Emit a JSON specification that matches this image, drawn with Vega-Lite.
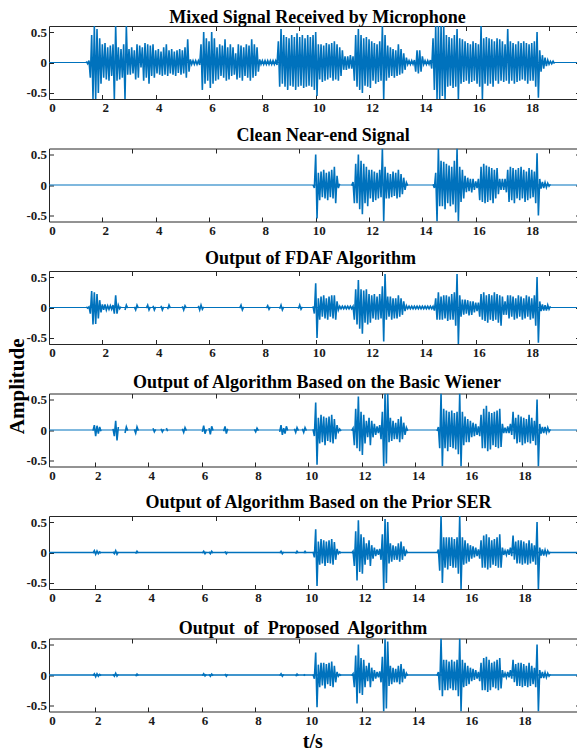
{
"$schema":"https://vega.github.io/schema/vega-lite/v6.json",
"background":"white",
"padding":{"left":5,"top":8,"right":0,"bottom":0},
"config":{
 "view":{"stroke":"#262626","strokeWidth":1},
 "axis":{"domain":false,"grid":false,"tickSize":-4.5,"tickColor":"#262626","tickWidth":1,"labelFont":"Liberation Serif","labelFontSize":13,"labelFontWeight":"bold","labelColor":"#1a1a1a","labelPadding":7,"labelFlush":false,"labelOverlap":false,"titleFont":"Liberation Serif","titleFontWeight":"bold","titleColor":"#000"},
 "axisX":{"labelOffset":3},
 "title":{"font":"Liberation Serif","fontSize":18,"fontWeight":"bold","color":"#000","anchor":"middle","frame":"group","baseline":"alphabetic"}
},
"datasets":{"w":[
{"t":1.4,"a":0.02,"c":0.01},
{"t":1.45,"a":-0.02,"c":-0.01},
{"t":1.5,"a":0.03,"c":0.01},
{"t":1.55,"a":-0.25,"c":-0.1},
{"t":1.6,"a":0.45,"c":0.27},
{"t":1.65,"a":-0.6,"c":-0.28,"d":-0.01,"e":-0.01,"f":-0.01},
{"t":1.7,"a":0.6,"c":0.25,"d":0.08,"e":0.03,"f":0.02},
{"t":1.75,"a":-0.6,"c":-0.27,"d":-0.1,"e":-0.03,"f":-0.03},
{"t":1.8,"a":0.55,"c":0.22,"d":0.07,"e":0.025,"f":0.02},
{"t":1.85,"a":-0.5,"c":-0.18,"d":-0.06,"e":-0.02,"f":-0.02},
{"t":1.9,"a":0.4,"c":0.12,"d":0.05,"e":0.01,"f":0.01},
{"t":1.95,"a":-0.35,"c":-0.08,"d":-0.02,"e":-0.01,"f":-0.01},
{"t":2,"a":0.3,"c":0.05},
{"t":2.05,"a":-0.25,"c":-0.04},
{"t":2.1,"a":0.32,"c":0.05},
{"t":2.15,"a":-0.28,"c":-0.04},
{"t":2.2,"a":0.25,"c":0.03},
{"t":2.25,"a":-0.3,"c":-0.03},
{"t":2.3,"a":0.28,"c":0.03},
{"t":2.35,"a":-0.22,"c":-0.03},
{"t":2.4,"a":0.3,"c":0.04,"d":0.02,"e":0.01,"f":0.01},
{"t":2.45,"a":-0.6,"c":-0.1,"d":-0.1,"e":-0.02,"f":-0.02},
{"t":2.5,"a":0.6,"c":0.2,"d":0.15,"e":0.03,"f":0.03},
{"t":2.55,"a":-0.3,"c":-0.1,"d":-0.17,"e":-0.03,"f":-0.02},
{"t":2.6,"a":0.25,"c":0.04,"d":0.05,"e":0.01,"f":0.01},
{"t":2.65,"a":-0.28,"c":-0.02},
{"t":2.7,"a":0.22,"c":0.015},
{"t":2.75,"a":-0.25},
{"t":2.8,"a":0.3},
{"t":2.85,"a":-0.6,"c":-0.04,"d":-0.05},
{"t":2.9,"a":0.6,"c":0.04,"d":0.05},
{"t":2.95,"a":-0.2,"c":-0.01,"d":-0.01},
{"t":3,"a":0.22},
{"t":3.05,"a":-0.2},
{"t":3.1,"a":0.25},
{"t":3.15,"a":-0.18},
{"t":3.2,"a":0.2,"c":0.01,"d":0.01},
{"t":3.25,"a":-0.28,"c":-0.04,"d":-0.05,"e":-0.02,"f":-0.02},
{"t":3.3,"a":0.3,"c":0.04,"d":0.05,"e":0.02,"f":0.015},
{"t":3.35,"a":-0.25,"c":-0.01,"d":-0.01,"e":-0.01,"f":-0.01},
{"t":3.4,"a":0.28},
{"t":3.45,"a":-0.08},
{"t":3.5,"a":0.25},
{"t":3.55,"a":-0.3},
{"t":3.6,"a":0.32},
{"t":3.65,"a":-0.25,"c":-0.01},
{"t":3.7,"a":0.3,"c":0.04},
{"t":3.75,"a":-0.35,"c":-0.04},
{"t":3.8,"a":0.28,"c":0.01},
{"t":3.85,"a":-0.22},
{"t":3.9,"a":0.3,"c":0.03,"d":0.03},
{"t":3.95,"a":-0.25,"c":-0.04,"d":-0.03},
{"t":4,"a":0.2,"c":0.01,"d":0.01},
{"t":4.05,"a":-0.18},
{"t":4.1,"a":0.22},
{"t":4.15,"a":-0.2},
{"t":4.2,"a":0.18,"c":0.03,"d":0.02},
{"t":4.25,"a":-0.22,"c":-0.04,"d":-0.03},
{"t":4.3,"a":0.25,"c":0.01,"d":0.01},
{"t":4.35,"a":-0.2},
{"t":4.4,"a":0.3,"d":0.03},
{"t":4.45,"a":-0.22,"c":-0.03,"d":-0.02},
{"t":4.5,"a":0.2,"c":0.04},
{"t":4.55,"a":-0.18,"c":-0.01},
{"t":4.6,"a":0.22},
{"t":4.65,"a":-0.2},
{"t":4.7,"a":0.18},
{"t":4.75,"a":-0.22},
{"t":4.8,"a":0.2},
{"t":4.85,"a":-0.17},
{"t":4.9,"a":0.22},
{"t":4.95,"a":-0.2},
{"t":5,"a":0.2,"c":0.02,"d":0.02},
{"t":5.05,"a":-0.18,"c":-0.04,"d":-0.04},
{"t":5.1,"a":0.25,"c":0.03,"d":0.04},
{"t":5.15,"a":-0.25,"c":-0.01,"d":-0.01},
{"t":5.2,"a":0.38},
{"t":5.25,"a":-0.15},
{"t":5.3,"a":0.05},
{"t":5.35,"a":-0.03},
{"t":5.4,"a":0.03},
{"t":5.45,"a":-0.03},
{"t":5.5,"a":0.03},
{"t":5.55,"a":-0.03},
{"t":5.6,"a":0.03,"c":0.03},
{"t":5.65,"a":-0.04,"c":-0.04},
{"t":5.7,"a":0.3,"c":0.04},
{"t":5.75,"a":-0.45,"c":-0.03,"d":-0.03,"e":-0.01,"f":-0.01},
{"t":5.8,"a":0.5,"c":0.01,"d":0.07,"e":0.02,"f":0.02},
{"t":5.85,"a":-0.35,"d":-0.06,"e":-0.02,"f":-0.015},
{"t":5.9,"a":0.4,"d":0.01,"e":0.01,"f":0.01},
{"t":5.95,"a":-0.3},
{"t":6,"a":0.35,"d":0.03,"e":0.01,"f":0.01},
{"t":6.05,"a":-0.42,"d":-0.07,"e":-0.02,"f":-0.02},
{"t":6.1,"a":0.5,"d":0.06,"e":0.02,"f":0.015},
{"t":6.15,"a":-0.35,"d":-0.01,"e":-0.01,"f":-0.01},
{"t":6.2,"a":0.4},
{"t":6.25,"a":-0.3},
{"t":6.3,"a":0.25},
{"t":6.35,"a":-0.28},
{"t":6.4,"a":0.3},
{"t":6.45,"a":-0.22},
{"t":6.5,"a":0.28},
{"t":6.55,"a":-0.25,"d":-0.02},
{"t":6.6,"a":0.38,"d":0.06,"e":0.02,"f":0.02},
{"t":6.65,"a":-0.3,"d":-0.06,"e":-0.02,"f":-0.02},
{"t":6.7,"a":0.25,"d":0.02,"e":0.01,"f":0.01},
{"t":6.75,"a":-0.28},
{"t":6.8,"a":0.3},
{"t":6.85,"a":-0.22},
{"t":6.9,"a":0.25},
{"t":6.95,"a":-0.2},
{"t":7,"a":0.15},
{"t":7.05,"a":-0.28},
{"t":7.1,"a":0.3},
{"t":7.15,"a":-0.25,"c":-0.01},
{"t":7.2,"a":0.28,"c":0.04},
{"t":7.25,"a":-0.3,"c":-0.04},
{"t":7.3,"a":0.25,"c":0.01},
{"t":7.35,"a":-0.22},
{"t":7.4,"a":0.3},
{"t":7.45,"a":-0.25},
{"t":7.5,"a":0.28},
{"t":7.55,"a":-0.3},
{"t":7.6,"a":0.38},
{"t":7.65,"a":-0.25},
{"t":7.7,"a":0.3,"d":0.01},
{"t":7.75,"a":-0.22,"d":-0.03},
{"t":7.8,"a":0.25,"d":0.03},
{"t":7.85,"a":-0.15,"d":-0.01},
{"t":7.9,"a":0.05},
{"t":7.95,"a":-0.03},
{"t":8,"a":0.03},
{"t":8.05,"a":-0.03},
{"t":8.1,"a":0.03},
{"t":8.15,"a":-0.03,"c":-0.01},
{"t":8.2,"a":0.03,"c":0.03},
{"t":8.25,"a":-0.03,"c":-0.03},
{"t":8.3,"a":0.03,"c":0.01},
{"t":8.35,"a":-0.03},
{"t":8.4,"a":0.03},
{"t":8.45,"a":-0.03},
{"t":8.5,"a":0.03},
{"t":8.55,"a":-0.04},
{"t":8.6,"a":0.35},
{"t":8.65,"a":-0.4,"c":-0.02,"d":-0.03,"e":-0.01,"f":-0.01},
{"t":8.7,"a":0.55,"c":0.04,"d":0.08,"e":0.02,"f":0.02},
{"t":8.75,"a":-0.35,"c":-0.04,"d":-0.08,"e":-0.02,"f":-0.02},
{"t":8.8,"a":0.45,"c":0.01,"d":0.03,"e":0.01,"f":0.01},
{"t":8.85,"a":-0.4,"d":-0.06},
{"t":8.9,"a":0.42,"d":0.06},
{"t":8.95,"a":-0.45,"d":-0.01},
{"t":9,"a":0.4},
{"t":9.05,"a":-0.38},
{"t":9.1,"a":0.45},
{"t":9.15,"a":-0.4},
{"t":9.2,"a":0.42,"d":0.02},
{"t":9.25,"a":-0.45,"d":-0.04,"e":-0.02,"f":-0.02},
{"t":9.3,"a":0.48,"d":0.04,"e":0.02,"f":0.015},
{"t":9.35,"a":-0.4,"c":-0.02,"d":-0.01,"e":-0.01,"f":-0.01},
{"t":9.4,"a":0.42,"c":0.04},
{"t":9.45,"a":-0.38,"c":-0.03},
{"t":9.5,"a":0.45,"c":0.01,"d":0.02},
{"t":9.55,"a":-0.42,"d":-0.04,"e":-0.01,"f":-0.01},
{"t":9.6,"a":0.4,"d":0.04,"e":0.02,"f":0.01},
{"t":9.65,"a":-0.4,"d":-0.01,"e":-0.01},
{"t":9.7,"a":0.45},
{"t":9.75,"a":-0.38},
{"t":9.8,"a":0.42},
{"t":9.85,"a":-0.4},
{"t":9.9,"a":0.45,"b":0,"c":0.02,"d":0.01,"e":0.01,"f":0.01},
{"t":9.95,"a":-0.45,"b":-0.05,"c":-0.1,"d":-0.1,"e":-0.08,"f":-0.06},
{"t":10,"a":0.5,"b":0.5,"c":0.4,"d":0.45,"e":0.38,"f":0.37},
{"t":10.05,"a":-0.55,"b":-0.55,"c":-0.5,"d":-0.57,"e":-0.55,"f":-0.53},
{"t":10.1,"a":0.3,"b":0.2,"c":0.15,"d":0.2,"e":0.18,"f":0.17},
{"t":10.15,"a":-0.28,"b":-0.25,"c":-0.2,"d":-0.22,"e":-0.2,"f":-0.2},
{"t":10.2,"a":0.3,"b":0.22,"c":0.18,"d":0.25,"e":0.22,"f":0.2},
{"t":10.25,"a":-0.32,"b":-0.2,"c":-0.15,"d":-0.2,"e":-0.18,"f":-0.17},
{"t":10.3,"a":0.28,"b":0.25,"c":0.2,"d":0.22,"e":0.2,"f":0.2},
{"t":10.35,"a":-0.3,"b":-0.22,"c":-0.18,"d":-0.25,"e":-0.22,"f":-0.22},
{"t":10.4,"a":0.32,"b":0.2,"c":0.15,"d":0.2,"e":0.18,"f":0.18},
{"t":10.45,"a":-0.28,"b":-0.25,"c":-0.2,"d":-0.18,"e":-0.17,"f":-0.15},
{"t":10.5,"a":0.3,"b":0.22,"c":0.18,"d":0.22,"e":0.2,"f":0.2},
{"t":10.55,"a":-0.25,"b":-0.2,"c":-0.15,"d":-0.2,"e":-0.18,"f":-0.18},
{"t":10.6,"a":0.32,"b":0.25,"c":0.2,"d":0.25,"e":0.22,"f":0.22},
{"t":10.65,"a":-0.3,"b":-0.22,"c":-0.18,"d":-0.22,"e":-0.2,"f":-0.2},
{"t":10.7,"a":0.35,"b":0.3,"c":0.2,"d":0.18,"e":0.17,"f":0.15},
{"t":10.75,"a":-0.28,"b":-0.3,"c":-0.2,"d":-0.15,"e":-0.12,"f":-0.12},
{"t":10.8,"a":0.3,"b":0.15,"c":0.1,"d":0.08,"e":0.06,"f":0.05},
{"t":10.85,"a":-0.3,"b":-0.05,"c":-0.04,"d":-0.03,"e":-0.02,"f":-0.02},
{"t":10.9,"a":0.25,"b":0.02,"c":0.02,"d":0.015,"e":0.01,"f":0.01},
{"t":10.95,"a":-0.22,"c":-0.02,"d":-0.015,"e":-0.01,"f":-0.01},
{"t":11,"a":0.2,"c":0.02},
{"t":11.05,"a":-0.12,"c":-0.02},
{"t":11.1,"a":0.1,"c":0.02},
{"t":11.15,"a":-0.12,"c":-0.02},
{"t":11.2,"a":0.1,"c":0.02},
{"t":11.25,"a":-0.1,"c":-0.02},
{"t":11.3,"a":0.12,"c":0.02},
{"t":11.35,"a":-0.1,"b":-0.01,"c":-0.02,"d":-0.01,"e":-0.01,"f":-0.01},
{"t":11.4,"a":0.1,"b":0.05,"c":0.02,"d":0.03,"e":0.02,"f":0.02},
{"t":11.45,"a":-0.3,"b":-0.3,"c":-0.2,"d":-0.25,"e":-0.22,"f":-0.2},
{"t":11.5,"a":0.45,"b":0.35,"c":0.3,"d":0.35,"e":0.35,"f":0.32},
{"t":11.55,"a":-0.4,"b":-0.3,"c":-0.28,"d":-0.3,"e":-0.46,"f":-0.47},
{"t":11.6,"a":0.55,"b":0.5,"c":0.45,"d":0.55,"e":0.53,"f":0.5},
{"t":11.65,"a":-0.45,"b":-0.4,"c":-0.35,"d":-0.35,"e":-0.32,"f":-0.3},
{"t":11.7,"a":0.45,"b":0.4,"c":0.3,"d":0.3,"e":0.3,"f":0.28},
{"t":11.75,"a":-0.5,"b":-0.48,"c":-0.43,"d":-0.41,"e":-0.35,"f":-0.33},
{"t":11.8,"a":0.4,"b":0.35,"c":0.28,"d":0.25,"e":0.25,"f":0.25},
{"t":11.85,"a":-0.38,"b":-0.3,"c":-0.25,"d":-0.22,"e":-0.2,"f":-0.2},
{"t":11.9,"a":0.42,"b":0.3,"c":0.3,"d":0.15,"e":0.15,"f":0.15},
{"t":11.95,"a":-0.4,"b":-0.35,"c":-0.28,"d":-0.12,"e":-0.12,"f":-0.1},
{"t":12,"a":0.38,"b":0.25,"c":0.22,"d":0.2,"e":0.2,"f":0.2},
{"t":12.05,"a":-0.42,"b":-0.22,"c":-0.25,"d":-0.25,"e":-0.22,"f":-0.2},
{"t":12.1,"a":0.35,"b":0.25,"c":0.2,"d":0.15,"e":0.12,"f":0.12},
{"t":12.15,"a":-0.3,"b":-0.28,"c":-0.18,"d":-0.12,"e":-0.1,"f":-0.1},
{"t":12.2,"a":0.32,"b":0.22,"c":0.22,"d":0.1,"e":0.08,"f":0.08},
{"t":12.25,"a":-0.35,"b":-0.25,"c":-0.2,"d":-0.08,"e":-0.06,"f":-0.06},
{"t":12.3,"a":0.3,"b":0.2,"c":0.18,"d":0.06,"e":0.05,"f":0.05},
{"t":12.35,"a":-0.32,"b":-0.22,"c":-0.2,"d":-0.05,"e":-0.04,"f":-0.04},
{"t":12.4,"a":0.35,"b":0.25,"c":0.22,"d":0.08,"e":0.06,"f":0.06},
{"t":12.45,"a":-0.3,"b":-0.2,"c":-0.18,"d":-0.15,"e":-0.12,"f":-0.12},
{"t":12.5,"a":0.6,"b":0.6,"c":0.35,"d":0.3,"e":0.3,"f":0.3},
{"t":12.55,"a":-0.6,"b":-0.6,"c":-0.56,"d":-0.6,"e":-0.6,"f":-0.6},
{"t":12.6,"a":0.45,"b":0.3,"c":0.55,"d":0.6,"e":0.55,"f":0.6},
{"t":12.65,"a":-0.3,"b":-0.22,"c":-0.2,"d":-0.55,"e":-0.5,"f":-0.55},
{"t":12.7,"a":0.28,"b":0.2,"c":0.18,"d":0.6,"e":0.5,"f":0.55},
{"t":12.75,"a":-0.25,"b":-0.22,"c":-0.15,"d":-0.2,"e":-0.18,"f":-0.18},
{"t":12.8,"a":0.25,"b":0.18,"c":0.18,"d":0.2,"e":0.15,"f":0.15},
{"t":12.85,"a":-0.22,"b":-0.2,"c":-0.2,"d":-0.18,"e":-0.15,"f":-0.15},
{"t":12.9,"a":0.22,"b":0.22,"c":0.15,"d":0.15,"e":0.12,"f":0.12},
{"t":12.95,"a":-0.25,"b":-0.18,"c":-0.18,"d":-0.15,"e":-0.12,"f":-0.12},
{"t":13,"a":0.2,"b":0.2,"c":0.15,"d":0.12,"e":0.1,"f":0.1},
{"t":13.05,"a":-0.22,"b":-0.22,"c":-0.18,"d":-0.15,"e":-0.12,"f":-0.12},
{"t":13.1,"a":0.3,"b":0.25,"c":0.2,"d":0.18,"e":0.15,"f":0.15},
{"t":13.15,"a":-0.2,"b":-0.2,"c":-0.15,"d":-0.2,"e":-0.15,"f":-0.15},
{"t":13.2,"a":0.22,"b":0.18,"c":0.15,"d":0.22,"e":0.18,"f":0.18},
{"t":13.25,"a":-0.18,"b":-0.15,"c":-0.12,"d":-0.15,"e":-0.12,"f":-0.12},
{"t":13.3,"a":0.15,"b":0.12,"c":0.1,"d":0.12,"e":0.1,"f":0.1},
{"t":13.35,"a":-0.12,"b":-0.08,"c":-0.06,"d":-0.08,"e":-0.06,"f":-0.06},
{"t":13.4,"a":0.08,"b":0.04,"c":0.03,"d":0.04,"e":0.03,"f":0.03},
{"t":13.45,"a":-0.03,"b":-0.01,"c":-0.02,"d":-0.015,"e":-0.01,"f":-0.01},
{"t":13.5,"a":0.03,"c":0.02},
{"t":13.55,"a":-0.03,"c":-0.02},
{"t":13.6,"a":0.03,"c":0.02},
{"t":13.65,"a":-0.03,"c":-0.02},
{"t":13.7,"a":0.04,"c":0.02},
{"t":13.75,"a":-0.15,"c":-0.02},
{"t":13.8,"a":0.2,"c":0.02},
{"t":13.85,"a":-0.18,"c":-0.02},
{"t":13.9,"a":0.2,"c":0.02},
{"t":13.95,"a":-0.15,"c":-0.02},
{"t":14,"a":0.1,"c":0.02},
{"t":14.05,"a":-0.03,"c":-0.02},
{"t":14.1,"a":0.03,"c":0.02},
{"t":14.15,"a":-0.03,"c":-0.02},
{"t":14.2,"a":0.03,"c":0.02},
{"t":14.25,"a":-0.03,"c":-0.02},
{"t":14.3,"a":0.04,"c":0.02},
{"t":14.35,"a":-0.1,"c":-0.02},
{"t":14.4,"a":0.4,"b":0.01,"c":0.02},
{"t":14.45,"a":-0.45,"b":-0.05,"c":-0.05},
{"t":14.5,"a":0.6,"b":0.2,"c":0.15},
{"t":14.55,"a":-0.6,"b":-0.6,"c":-0.2,"d":-0.015,"e":-0.01,"f":-0.01},
{"t":14.6,"a":0.6,"b":0.6,"c":0.25,"d":0.05,"e":0.05,"f":0.05},
{"t":14.65,"a":-0.6,"b":-0.35,"c":-0.2,"d":-0.3,"e":-0.3,"f":-0.25},
{"t":14.7,"a":0.6,"b":0.4,"c":0.18,"d":0.6,"e":0.6,"f":0.6},
{"t":14.75,"a":-0.55,"b":-0.35,"c":-0.2,"d":-0.6,"e":-0.5,"f":-0.35},
{"t":14.8,"a":0.6,"b":0.38,"c":0.2,"d":0.35,"e":0.25,"f":0.25},
{"t":14.85,"a":-0.6,"b":-0.4,"c":-0.18,"d":-0.3,"e":-0.25,"f":-0.25},
{"t":14.9,"a":0.45,"b":0.35,"c":0.2,"d":0.32,"e":0.25,"f":0.25},
{"t":14.95,"a":-0.4,"b":-0.3,"c":-0.22,"d":-0.35,"e":-0.28,"f":-0.25},
{"t":15,"a":0.42,"b":0.32,"c":0.18,"d":0.3,"e":0.25,"f":0.22},
{"t":15.05,"a":-0.38,"b":-0.35,"c":-0.2,"d":-0.28,"e":-0.22,"f":-0.22},
{"t":15.1,"a":0.4,"b":0.3,"c":0.22,"d":0.32,"e":0.25,"f":0.25},
{"t":15.15,"a":-0.42,"b":-0.32,"c":-0.2,"d":-0.3,"e":-0.25,"f":-0.25},
{"t":15.2,"a":0.45,"b":0.4,"c":0.25,"d":0.28,"e":0.22,"f":0.22},
{"t":15.25,"a":-0.4,"b":-0.45,"c":-0.3,"d":-0.32,"e":-0.25,"f":-0.25},
{"t":15.3,"a":0.55,"b":0.6,"c":0.55,"d":0.3,"e":0.25,"f":0.25},
{"t":15.35,"a":-0.6,"b":-0.6,"c":-0.6,"d":-0.4,"e":-0.35,"f":-0.35},
{"t":15.4,"a":0.4,"b":0.3,"c":0.2,"d":0.6,"e":0.6,"f":0.6},
{"t":15.45,"a":-0.35,"b":-0.28,"c":-0.15,"d":-0.6,"e":-0.6,"f":-0.6},
{"t":15.5,"a":0.38,"b":0.25,"c":0.13,"d":0.3,"e":0.25,"f":0.25},
{"t":15.55,"a":-0.32,"b":-0.22,"c":-0.12,"d":-0.25,"e":-0.2,"f":-0.2},
{"t":15.6,"a":0.35,"b":0.15,"c":0.13,"d":0.22,"e":0.2,"f":0.2},
{"t":15.65,"a":-0.3,"b":-0.12,"c":-0.1,"d":-0.2,"e":-0.18,"f":-0.18},
{"t":15.7,"a":0.32,"b":0.12,"c":0.12,"d":0.18,"e":0.15,"f":0.15},
{"t":15.75,"a":-0.35,"b":-0.1,"c":-0.13,"d":-0.2,"e":-0.15,"f":-0.15},
{"t":15.8,"a":0.3,"b":0.1,"c":0.1,"d":0.15,"e":0.12,"f":0.12},
{"t":15.85,"a":-0.32,"b":-0.12,"c":-0.12,"d":-0.12,"e":-0.1,"f":-0.1},
{"t":15.9,"a":0.35,"b":0.1,"c":0.1,"d":0.12,"e":0.1,"f":0.1},
{"t":15.95,"a":-0.3,"b":-0.08,"c":-0.08,"d":-0.1,"e":-0.08,"f":-0.08},
{"t":16,"a":0.32,"b":0.06,"c":0.08,"d":0.1,"e":0.08,"f":0.08},
{"t":16.05,"a":-0.35,"b":-0.05,"c":-0.06,"d":-0.08,"e":-0.06,"f":-0.06},
{"t":16.1,"a":0.3,"b":0.1,"c":0.08,"d":0.06,"e":0.05,"f":0.05},
{"t":16.15,"a":-0.4,"b":-0.25,"c":-0.15,"d":-0.1,"e":-0.1,"f":-0.1},
{"t":16.2,"a":0.6,"b":0.3,"c":0.22,"d":0.25,"e":0.2,"f":0.2},
{"t":16.25,"a":-0.6,"b":-0.28,"c":-0.2,"d":-0.3,"e":-0.25,"f":-0.25},
{"t":16.3,"a":0.4,"b":0.35,"c":0.25,"d":0.35,"e":0.28,"f":0.28},
{"t":16.35,"a":-0.35,"b":-0.3,"c":-0.22,"d":-0.3,"e":-0.25,"f":-0.25},
{"t":16.4,"a":0.42,"b":0.32,"c":0.2,"d":0.4,"e":0.3,"f":0.3},
{"t":16.45,"a":-0.38,"b":-0.28,"c":-0.25,"d":-0.35,"e":-0.28,"f":-0.28},
{"t":16.5,"a":0.4,"b":0.3,"c":0.22,"d":0.3,"e":0.25,"f":0.25},
{"t":16.55,"a":-0.35,"b":-0.25,"c":-0.2,"d":-0.32,"e":-0.25,"f":-0.25},
{"t":16.6,"a":0.38,"b":0.28,"c":0.2,"d":0.28,"e":0.2,"f":0.2},
{"t":16.65,"a":-0.4,"b":-0.3,"c":-0.22,"d":-0.25,"e":-0.2,"f":-0.2},
{"t":16.7,"a":0.35,"b":0.25,"c":0.25,"d":0.3,"e":0.22,"f":0.22},
{"t":16.75,"a":-0.3,"b":-0.22,"c":-0.2,"d":-0.28,"e":-0.22,"f":-0.22},
{"t":16.8,"a":0.4,"b":0.28,"c":0.22,"d":0.32,"e":0.25,"f":0.25},
{"t":16.85,"a":-0.35,"b":-0.15,"c":-0.25,"d":-0.3,"e":-0.25,"f":-0.25},
{"t":16.9,"a":0.38,"b":0.1,"c":0.2,"d":0.35,"e":0.3,"f":0.28},
{"t":16.95,"a":-0.3,"b":-0.08,"c":-0.3,"d":-0.28,"e":-0.25,"f":-0.22},
{"t":17,"a":0.35,"b":0.1,"c":0.18,"d":0.1,"e":0.08,"f":0.08},
{"t":17.05,"a":-0.32,"b":-0.08,"c":-0.12,"d":-0.05,"e":-0.04,"f":-0.04},
{"t":17.1,"a":0.3,"b":0.1,"c":0.1,"d":0.04,"e":0.03,"f":0.03},
{"t":17.15,"a":-0.3,"b":-0.12,"c":-0.12,"d":-0.05,"e":-0.04,"f":-0.04},
{"t":17.2,"a":0.55,"b":0.25,"c":0.2,"d":0.06,"e":0.05,"f":0.05},
{"t":17.25,"a":-0.35,"b":-0.28,"c":-0.18,"d":-0.05,"e":-0.04,"f":-0.04},
{"t":17.3,"a":0.35,"b":0.3,"c":0.2,"d":0.1,"e":0.08,"f":0.08},
{"t":17.35,"a":-0.3,"b":-0.25,"c":-0.15,"d":-0.08,"e":-0.06,"f":-0.06},
{"t":17.4,"a":0.32,"b":0.28,"c":0.18,"d":0.3,"e":0.28,"f":0.25},
{"t":17.45,"a":-0.35,"b":-0.3,"c":-0.2,"d":-0.15,"e":-0.12,"f":-0.12},
{"t":17.5,"a":0.3,"b":0.25,"c":0.15,"d":0.2,"e":0.18,"f":0.18},
{"t":17.55,"a":-0.32,"b":-0.22,"c":-0.18,"d":-0.22,"e":-0.18,"f":-0.18},
{"t":17.6,"a":0.35,"b":0.28,"c":0.2,"d":0.25,"e":0.2,"f":0.2},
{"t":17.65,"a":-0.3,"b":-0.25,"c":-0.15,"d":-0.2,"e":-0.18,"f":-0.18},
{"t":17.7,"a":0.32,"b":0.3,"c":0.18,"d":0.22,"e":0.2,"f":0.2},
{"t":17.75,"a":-0.28,"b":-0.22,"c":-0.2,"d":-0.25,"e":-0.2,"f":-0.2},
{"t":17.8,"a":0.35,"b":0.25,"c":0.15,"d":0.2,"e":0.18,"f":0.18},
{"t":17.85,"a":-0.3,"b":-0.28,"c":-0.18,"d":-0.22,"e":-0.18,"f":-0.18},
{"t":17.9,"a":0.32,"b":0.22,"c":0.2,"d":0.18,"e":0.15,"f":0.15},
{"t":17.95,"a":-0.35,"b":-0.25,"c":-0.15,"d":-0.2,"e":-0.2,"f":-0.2},
{"t":18,"a":0.3,"b":0.28,"c":0.18,"d":0.25,"e":0.2,"f":0.2},
{"t":18.05,"a":-0.3,"b":-0.22,"c":-0.2,"d":-0.22,"e":-0.18,"f":-0.18},
{"t":18.1,"a":0.32,"b":0.25,"c":0.15,"d":0.2,"e":0.15,"f":0.15},
{"t":18.15,"a":-0.3,"b":-0.2,"c":-0.18,"d":-0.18,"e":-0.15,"f":-0.15},
{"t":18.2,"a":0.35,"b":0.22,"c":0.2,"d":0.15,"e":0.12,"f":0.12},
{"t":18.25,"a":-0.4,"b":-0.3,"c":-0.3,"d":-0.25,"e":-0.2,"f":-0.2},
{"t":18.3,"a":0.5,"b":0.52,"c":0.5,"d":0.5,"e":0.5,"f":0.5},
{"t":18.35,"a":-0.58,"b":-0.5,"c":-0.58,"d":-0.6,"e":-0.6,"f":-0.6},
{"t":18.4,"a":0.2,"b":0.1,"c":0.1,"d":0.1,"e":0.08,"f":0.08},
{"t":18.45,"a":-0.15,"b":-0.06,"c":-0.06,"d":-0.06,"e":-0.05,"f":-0.05},
{"t":18.5,"a":0.12,"b":0.05,"c":0.05,"d":0.05,"e":0.05,"f":0.05},
{"t":18.55,"a":-0.1,"b":-0.05,"c":-0.05,"d":-0.05,"e":-0.05,"f":-0.05},
{"t":18.6,"a":0.08,"b":0.04,"c":0.04,"d":0.05,"e":0.04,"f":0.04},
{"t":18.65,"a":-0.06,"b":-0.04,"c":-0.05,"d":-0.04,"e":-0.04,"f":-0.04},
{"t":18.7,"a":0.04,"b":0.03,"c":0.04,"d":0.04,"e":0.03,"f":0.03},
{"t":18.75,"a":-0.03,"b":-0.02,"c":-0.03,"d":-0.03,"e":-0.02,"f":-0.02},
{"t":18.8,"a":0.02,"b":0.01,"c":0.02,"d":0.01,"e":0.01,"f":0.01},
{"t":18.85,"a":-0.02},
{"t":18.9,"a":0.02},
{"t":18.95,"a":-0.02}
]},
"bounds":"flush",
"spacing":49.5,
"vconcat":[
{"width":531,"height":73,
 "title":{"text":"Mixed Signal Received by Microphone","offset":-1,"dx":3},
 "layer":[
  {"data":{"values":[{}]},"mark":{"type":"rule","color":"#0072BD","strokeWidth":1.2},"encoding":{"y":{"datum":0,"type":"quantitative","scale":{"domain":[-0.6,0.6],"nice":false},"axis":null}}},
  {"data":{"name":"w"},"mark":{"type":"line","color":"#0072BD","strokeWidth":1.6,"clip":true},
   "encoding":{"x":{"field":"t","type":"quantitative","scale":{"domain":[0,19.91],"nice":false,"zero":false},"axis":{"orient":"bottom","values":[0,2,4,6,8,10,12,14,16,18],"title":null}},
   "y":{"field":"a","type":"quantitative","scale":{"domain":[-0.6,0.6],"nice":false},"axis":{"orient":"left","values":[-0.5,0,0.5],"labelExpr":"datum.value == 0 ? '0' : (datum.value > 0 ? '0.5' : '-0.5')","title":null}}}},
  {"data":{"values":[{"t":0,"v":0}]},"mark":{"type":"point","opacity":0},
   "encoding":{"x":{"field":"t","type":"quantitative","scale":{"domain":[0,19.91],"nice":false,"zero":false},"axis":{"orient":"top","values":[3.125,6.25,9.375,12.5,15.625,18.75],"labels":false,"title":null}},
   "y":{"field":"v","type":"quantitative","scale":{"domain":[-0.6,0.6],"nice":false},"axis":{"orient":"right","values":[-0.5,0,0.5],"labels":false,"title":null}}}}
 ],
 "resolve":{"axis":{"x":"independent","y":"independent"}}},
{"width":531,"height":73,
 "title":{"text":"Clean Near-end Signal","offset":3,"dx":8.6},
 "layer":[
  {"data":{"values":[{}]},"mark":{"type":"rule","color":"#0072BD","strokeWidth":1.2},"encoding":{"y":{"datum":0,"type":"quantitative","scale":{"domain":[-0.6,0.6],"nice":false},"axis":null}}},
  {"data":{"name":"w"},"mark":{"type":"line","color":"#0072BD","strokeWidth":1.6,"clip":true},
   "encoding":{"x":{"field":"t","type":"quantitative","scale":{"domain":[0,19.91],"nice":false,"zero":false},"axis":{"orient":"bottom","values":[0,2,4,6,8,10,12,14,16,18],"title":null}},
   "y":{"field":"b","type":"quantitative","scale":{"domain":[-0.6,0.6],"nice":false},"axis":{"orient":"left","values":[-0.5,0,0.5],"labelExpr":"datum.value == 0 ? '0' : (datum.value > 0 ? '0.5' : '-0.5')","title":null}}}},
  {"data":{"values":[{"t":0,"v":0}]},"mark":{"type":"point","opacity":0},
   "encoding":{"x":{"field":"t","type":"quantitative","scale":{"domain":[0,19.91],"nice":false,"zero":false},"axis":{"orient":"top","values":[3.125,6.25,9.375,12.5,15.625,18.75],"labels":false,"title":null}},
   "y":{"field":"v","type":"quantitative","scale":{"domain":[-0.6,0.6],"nice":false},"axis":{"orient":"right","values":[-0.5,0,0.5],"labels":false,"title":null}}}}
 ],
 "resolve":{"axis":{"x":"independent","y":"independent"}}},
{"width":531,"height":73,
 "title":{"text":"Output of FDAF Algorithm","offset":3,"dx":-4},
 "layer":[
  {"data":{"values":[{}]},"mark":{"type":"rule","color":"#0072BD","strokeWidth":1.2},"encoding":{"y":{"datum":0,"type":"quantitative","scale":{"domain":[-0.6,0.6],"nice":false},"axis":null}}},
  {"data":{"name":"w"},"mark":{"type":"line","color":"#0072BD","strokeWidth":1.6,"clip":true},
   "encoding":{"x":{"field":"t","type":"quantitative","scale":{"domain":[0,19.91],"nice":false,"zero":false},"axis":{"orient":"bottom","values":[0,2,4,6,8,10,12,14,16,18],"title":null}},
   "y":{"field":"c","type":"quantitative","scale":{"domain":[-0.6,0.6],"nice":false},"axis":{"orient":"left","values":[-0.5,0,0.5],"labelExpr":"datum.value == 0 ? '0' : (datum.value > 0 ? '0.5' : '-0.5')","title":"Amplitude","titleFontSize":21,"titleX":-25.5,"titleY":114.8,"titleAngle":-90,"titleAlign":"center","titleBaseline":"alphabetic"}}}},
  {"data":{"values":[{"t":0,"v":0}]},"mark":{"type":"point","opacity":0},
   "encoding":{"x":{"field":"t","type":"quantitative","scale":{"domain":[0,19.91],"nice":false,"zero":false},"axis":{"orient":"top","values":[3.125,6.25,9.375,12.5,15.625,18.75],"labels":false,"title":null}},
   "y":{"field":"v","type":"quantitative","scale":{"domain":[-0.6,0.6],"nice":false},"axis":{"orient":"right","values":[-0.5,0,0.5],"labels":false,"title":null}}}}
 ],
 "resolve":{"axis":{"x":"independent","y":"independent"}}},
{"width":531,"height":73,
 "title":{"text":"Output of Algorithm Based on the Basic Wiener","offset":1,"dx":2.5},
 "layer":[
  {"data":{"values":[{}]},"mark":{"type":"rule","color":"#0072BD","strokeWidth":1.2},"encoding":{"y":{"datum":0,"type":"quantitative","scale":{"domain":[-0.6,0.6],"nice":false},"axis":null}}},
  {"data":{"name":"w"},"mark":{"type":"line","color":"#0072BD","strokeWidth":1.6,"clip":true},
   "encoding":{"x":{"field":"t","type":"quantitative","scale":{"domain":[0,19.91],"nice":false,"zero":false},"axis":{"orient":"bottom","values":[0,1.72,3.72,5.72,7.72,9.72,11.72,13.72,15.72,17.72],"labelExpr":"format(round(datum.value + 0.28), 'd')","title":null}},
   "y":{"field":"d","type":"quantitative","scale":{"domain":[-0.6,0.6],"nice":false},"axis":{"orient":"left","values":[-0.5,0,0.5],"labelExpr":"datum.value == 0 ? '0' : (datum.value > 0 ? '0.5' : '-0.5')","title":null}}}},
  {"data":{"values":[{"t":0,"v":0}]},"mark":{"type":"point","opacity":0},
   "encoding":{"x":{"field":"t","type":"quantitative","scale":{"domain":[0,19.91],"nice":false,"zero":false},"axis":{"orient":"top","values":[3.125,6.25,9.375,12.5,15.625,18.75],"labels":false,"title":null}},
   "y":{"field":"v","type":"quantitative","scale":{"domain":[-0.6,0.6],"nice":false},"axis":{"orient":"right","values":[-0.5,0,0.5],"labels":false,"title":null}}}}
 ],
 "resolve":{"axis":{"x":"independent","y":"independent"}}},
{"width":531,"height":73,
 "title":{"text":"Output of Algorithm Based on the Prior SER","offset":3.7,"dx":4},
 "layer":[
  {"data":{"values":[{}]},"mark":{"type":"rule","color":"#0072BD","strokeWidth":1.6},"encoding":{"y":{"datum":0,"type":"quantitative","scale":{"domain":[-0.6,0.6],"nice":false},"axis":null}}},
  {"data":{"name":"w"},"mark":{"type":"line","color":"#0072BD","strokeWidth":1.6,"clip":true},
   "encoding":{"x":{"field":"t","type":"quantitative","scale":{"domain":[0,19.91],"nice":false,"zero":false},"axis":{"orient":"bottom","values":[0,1.72,3.72,5.72,7.72,9.72,11.72,13.72,15.72,17.72],"labelExpr":"format(round(datum.value + 0.28), 'd')","title":null}},
   "y":{"field":"e","type":"quantitative","scale":{"domain":[-0.6,0.6],"nice":false},"axis":{"orient":"left","values":[-0.5,0,0.5],"labelExpr":"datum.value == 0 ? '0' : (datum.value > 0 ? '0.5' : '-0.5')","title":null}}}},
  {"data":{"values":[{"t":0,"v":0}]},"mark":{"type":"point","opacity":0},
   "encoding":{"x":{"field":"t","type":"quantitative","scale":{"domain":[0,19.91],"nice":false,"zero":false},"axis":{"orient":"top","values":[3.125,6.25,9.375,12.5,15.625,18.75],"labels":false,"title":null}},
   "y":{"field":"v","type":"quantitative","scale":{"domain":[-0.6,0.6],"nice":false},"axis":{"orient":"right","values":[-0.5,0,0.5],"labels":false,"title":null}}}}
 ],
 "resolve":{"axis":{"x":"independent","y":"independent"}}},
{"width":531,"height":73,
 "title":{"text":"Output\u00a0 of\u00a0 Proposed\u00a0 Algorithm","offset":0,"dx":-11.5},
 "layer":[
  {"data":{"values":[{}]},"mark":{"type":"rule","color":"#0072BD","strokeWidth":1.3},"encoding":{"y":{"datum":0,"type":"quantitative","scale":{"domain":[-0.6,0.6],"nice":false},"axis":null}}},
  {"data":{"name":"w"},"mark":{"type":"line","color":"#0072BD","strokeWidth":1.6,"clip":true},
   "encoding":{"x":{"field":"t","type":"quantitative","scale":{"domain":[0,19.91],"nice":false,"zero":false},"axis":{"orient":"bottom","values":[0,1.72,3.72,5.72,7.72,9.72,11.72,13.72,15.72,17.72],"labelExpr":"format(round(datum.value + 0.28), 'd')","title":"t/s","titleFontSize":20,"titleX":263.3,"titleY":35.7,"titleAlign":"center","titleBaseline":"alphabetic"}},
   "y":{"field":"f","type":"quantitative","scale":{"domain":[-0.6,0.6],"nice":false},"axis":{"orient":"left","values":[-0.5,0,0.5],"labelExpr":"datum.value == 0 ? '0' : (datum.value > 0 ? '0.5' : '-0.5')","title":null}}}},
  {"data":{"values":[{"t":0,"v":0}]},"mark":{"type":"point","opacity":0},
   "encoding":{"x":{"field":"t","type":"quantitative","scale":{"domain":[0,19.91],"nice":false,"zero":false},"axis":{"orient":"top","values":[3.125,6.25,9.375,12.5,15.625,18.75],"labels":false,"title":null}},
   "y":{"field":"v","type":"quantitative","scale":{"domain":[-0.6,0.6],"nice":false},"axis":{"orient":"right","values":[-0.5,0,0.5],"labels":false,"title":null}}}}
 ],
 "resolve":{"axis":{"x":"independent","y":"independent"}}}
]
}
